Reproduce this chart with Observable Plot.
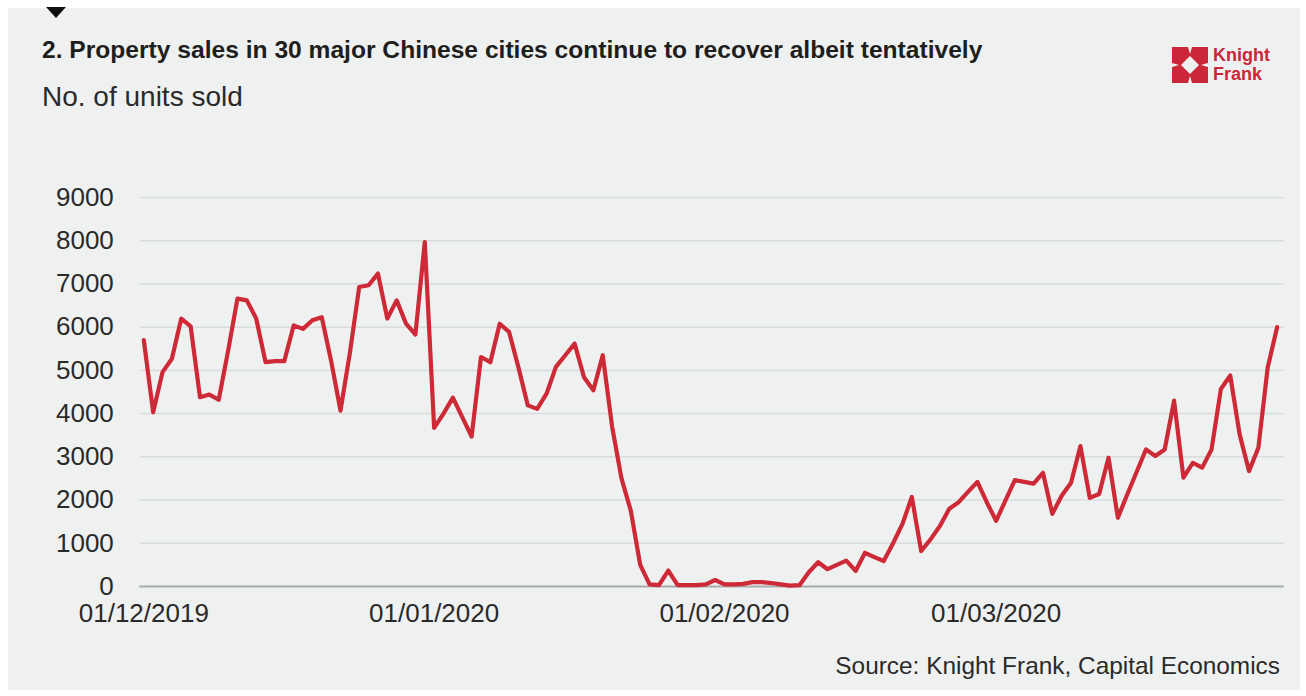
<!DOCTYPE html>
<html>
<head>
<meta charset="utf-8">
<script src="https://cdn.jsdelivr.net/npm/d3@7"></script>
<script src="https://cdn.jsdelivr.net/npm/@observablehq/plot@0.6"></script>
<style>
  html, body { margin: 0; padding: 0; background: #ffffff; }
  body { width: 1306px; height: 696px; position: relative; overflow: hidden; font-family: "Liberation Sans", Arial, sans-serif; }
  #panel { position: absolute; left: 8px; top: 8px; width: 1292px; height: 682px; background: #eff1f1; }
  #marker { position: absolute; left: 46px; top: 7px; }
  #title { position: absolute; left: 42px; top: 36px; font-weight: bold; font-size: 24.6px; color: #1e1e1e; white-space: nowrap; }
  #subtitle { position: absolute; left: 42px; top: 81px; font-size: 28px; color: #2a2a2a; white-space: nowrap; }
  #logo { position: absolute; left: 1170px; top: 44px; }
  #chart { position: absolute; left: 0; top: 150px; }
  #source { position: absolute; right: 26px; top: 652px; font-size: 24.4px; color: #2a2a2a; white-space: nowrap; }
</style>
</head>
<body>
<div id="panel"></div>
<svg id="marker" width="20" height="12"><polygon points="0,0 20,0 10,11" fill="#111"/></svg>
<div id="title">2. Property sales in 30 major Chinese cities continue to recover albeit tentatively</div>
<div id="subtitle">No. of units sold</div>
<svg id="logo" width="115" height="42">
  <g fill="#cc2639">
    <polygon points="2,3 18,3 20,10 22,3 38,3 38,19 31,21 38,23 38,39 22,39 20,32 18,39 2,39 2,23 9,21 2,19"/>
  </g>
  <polygon points="20,12 29,21 20,30 11,21" fill="#eff1f1"/>
  <text x="43" y="17" font-family="Liberation Sans, Arial, sans-serif" font-weight="bold" font-size="18" fill="#cc2639">Knight</text>
  <text x="43" y="36" font-family="Liberation Sans, Arial, sans-serif" font-weight="bold" font-size="18" fill="#cc2639">Frank</text>
</svg>
<div id="chart"></div>
<div id="source">Source: Knight Frank, Capital Economics</div>
<script>
// ---- data ----
const startDate = "2019-12-01";
const unitsSold = [
  5700, 4030, 4960, 5270, 6200, 6020, 4380, 4440, 4320, 5450,
  6660, 6620, 6200, 5190, 5215, 5215, 6040, 5960, 6160, 6230,
  5220, 4070, 5400, 6930, 6970, 7240, 6200, 6620, 6080, 5830,
  7970, 3670, 4000, 4370, 3920, 3470, 5310, 5190, 6080, 5890,
  5070, 4190, 4110, 4460, 5080, 5350, 5620, 4840, 4540, 5350,
  3700, 2500, 1750, 500, 50, 30, 370, 30, 30, 30,
  50, 150, 50, 50, 60, 100, 100, 80, 50, 20,
  30, 330, 560, 400, 500, 600, 360, 780, 680, 590,
  1000, 1450, 2070, 820, 1090, 1400, 1800, 1950, 2190, 2420,
  1950, 1520, 1990, 2460, 2420, 2380, 2630, 1680, 2100, 2400,
  3250, 2050, 2140, 2980, 1590, 2130, 2650, 3170, 3020, 3170,
  4300, 2520, 2860, 2750, 3170, 4570, 4880, 3520, 2670, 3210,
  5070, 6000
];
const yTicks = [0, 1000, 2000, 3000, 4000, 5000, 6000, 7000, 8000, 9000];
const xTickDates = ["2019-12-01", "2020-01-01", "2020-02-01", "2020-03-01"];
const xTickLabels = ["01/12/2019", "01/01/2020", "01/02/2020", "01/03/2020"];

// ---- build table ----
const start = new Date(startDate + "T00:00:00Z");
const rows = unitsSold.map((v, i) => ({date: d3.utcDay.offset(start, i), value: v}));
const tickDates = xTickDates.map(s => new Date(s + "T00:00:00Z"));

const chart = Plot.plot({
  width: 1306,
  height: 500,
  marginLeft: 143.3,
  marginRight: 29.4,
  marginTop: 47,
  marginBottom: 64,
  x: {type: "utc", domain: [rows[0].date, rows[rows.length - 1].date]},
  y: {domain: [0, 9000]},
  style: {background: "transparent", fontFamily: "Liberation Sans, Arial, sans-serif", fontSize: "26px", color: "#2a2a2a"},
  marks: [
    Plot.ruleY(yTicks.filter(d => d > 0), {stroke: "#d9dcdc", strokeWidth: 1.5, insetLeft: -4, insetRight: -7}),
    Plot.ruleY([0], {stroke: "#a8abab", strokeWidth: 2.2, insetLeft: -4, insetRight: -7}),
    Plot.axisY(yTicks, {tickSize: 0, tickPadding: 30, tickFormat: d => String(d), label: null}),
    Plot.axisX(tickDates, {tickSize: 0, tickPadding: 17, label: null,
      tickFormat: d => xTickLabels[tickDates.findIndex(t => +t === +d)]}),
    Plot.lineY(rows, {x: "date", y: "value", stroke: "#cd2936", strokeWidth: 4.2, strokeLinejoin: "round", strokeLinecap: "round"})
  ]
});
document.getElementById("chart").appendChild(chart);
</script>
</body>
</html>
